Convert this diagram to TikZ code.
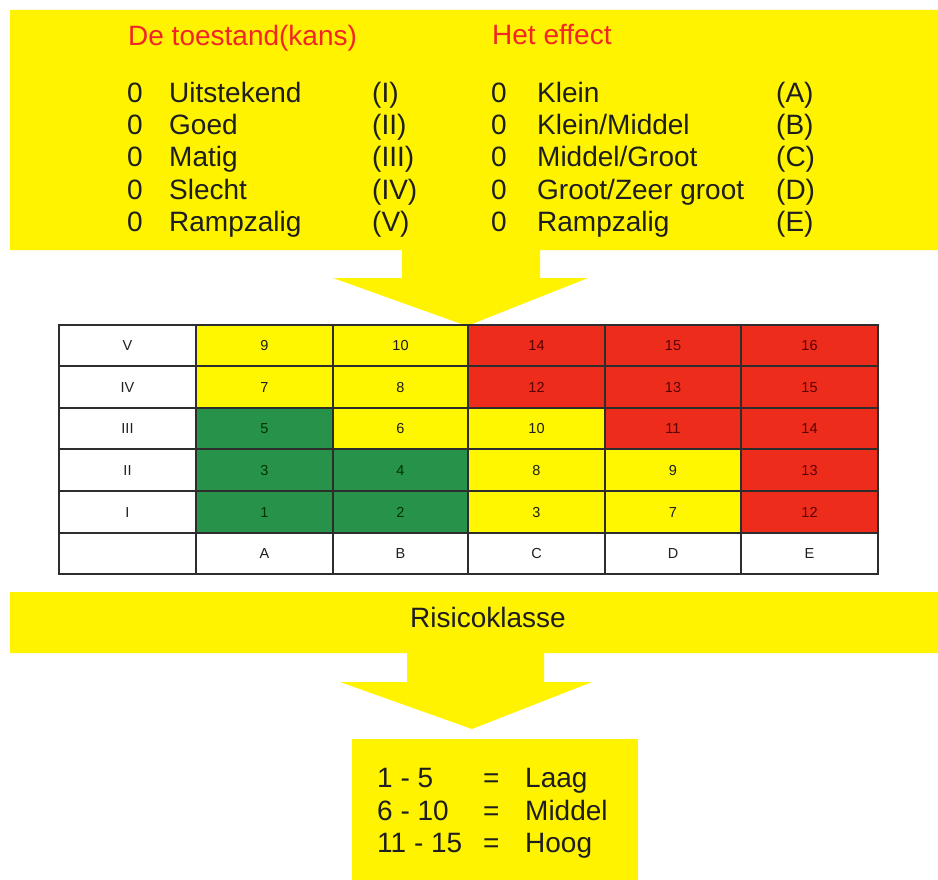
\documentclass[tikz,border=0pt]{standalone}
\usepackage{fontspec}
\setmainfont{Liberation Sans}
\definecolor{bandyellow}{RGB}{255,243,0}
\definecolor{cellyellow}{RGB}{255,247,0}
\definecolor{cellred}{RGB}{238,44,28}
\definecolor{cellgreen}{RGB}{38,146,74}
\definecolor{titlered}{RGB}{242,38,38}
\definecolor{gridline}{RGB}{45,45,45}
\definecolor{txtdark}{RGB}{30,30,30}
\begin{document}
\begin{tikzpicture}[x=1pt,y=-1pt,
  big/.style={font=\fontsize{28}{28}\selectfont, anchor=base west, inner sep=0pt, text=txtdark},
  title/.style={big, text=titlered},
  cell/.style={draw=gridline, line width=1.1pt, inner sep=0pt, text height=10.4pt, text depth=0pt, font=\fontsize{14.5}{14.5}\selectfont},
  wcell/.style={cell, fill=white, text=txtdark},
  ycell/.style={cell, fill=cellyellow, text=txtdark},
  rcell/.style={cell, fill=cellred, text=red!35!black},
  gcell/.style={cell, fill=cellgreen, text=green!20!black}]
\useasboundingbox (0,0) rectangle (938,880);
% top band with arrow
\fill[bandyellow] (10,10) -- (938,10) -- (938,250) -- (540,250) -- (540,278) -- (588,278)
  -- (467,326) -- (333,278) -- (402,278) -- (402,250) -- (10,250) -- cycle;
% bottom band with arrow
\fill[bandyellow] (10,592) -- (938,592) -- (938,653) -- (544,653) -- (544,682) -- (592,682)
  -- (472,729) -- (340,682) -- (407,682) -- (407,653) -- (10,653) -- cycle;
\fill[bandyellow] (352,739) rectangle (638,880);
% titles
\node[title] (t1) at (128,46) {De toestand(kans)};
\node[title] (t2) at (492,45) {Het effect};
% left list
\foreach \i/\nm/\rn/\yy in {1/Uitstekend/(I)/103, 2/Goed/(II)/135, 3/Matig/(III)/167, 4/Slecht/(IV)/200, 5/Rampzalig/(V)/232}{
  \node[big] (lz\i) at (127,\yy) {0};
  \node[big] (ln\i) at (169,\yy) {\nm};
  \node[big] (lr\i) at (372,\yy) {\rn};
}
% right list
\foreach \i/\nm/\rn/\yy in {1/{Klein}/(A)/103, 2/{Klein/Middel}/(B)/135, 3/{Middel/Groot}/(C)/167, 4/{Groot/Zeer groot}/(D)/200, 5/{Rampzalig}/(E)/232}{
  \node[big] (rz\i) at (491,\yy) {0};
  \node[big] (rn\i) at (537,\yy) {\nm};
  \node[big] (rr\i) at (776,\yy) {\rn};
}
% table
\def\xs{{59,196,333,468,605,741,878}}
\def\ys{{325,366,408,449,491,533,574}}
\foreach \r/\c/\st/\txt in {
  0/0/wcell/V, 0/1/ycell/9, 0/2/ycell/10, 0/3/rcell/14, 0/4/rcell/15, 0/5/rcell/16,
  1/0/wcell/IV, 1/1/ycell/7, 1/2/ycell/8, 1/3/rcell/12, 1/4/rcell/13, 1/5/rcell/15,
  2/0/wcell/III, 2/1/gcell/5, 2/2/ycell/6, 2/3/ycell/10, 2/4/rcell/11, 2/5/rcell/14,
  3/0/wcell/II, 3/1/gcell/3, 3/2/gcell/4, 3/3/ycell/8, 3/4/ycell/9, 3/5/rcell/13,
  4/0/wcell/I, 4/1/gcell/1, 4/2/gcell/2, 4/3/ycell/3, 4/4/ycell/7, 4/5/rcell/12,
  5/0/wcell/{}, 5/1/wcell/A, 5/2/wcell/B, 5/3/wcell/C, 5/4/wcell/D, 5/5/wcell/E}{
  \pgfmathsetmacro\xa{\xs[\c]}
  \pgfmathsetmacro\xb{\xs[\c+1]}
  \pgfmathsetmacro\ya{\ys[\r]}
  \pgfmathsetmacro\yb{\ys[\r+1]}
  \node[\st, minimum width={(\xb-\xa)*1pt}, minimum height={(\yb-\ya)*1pt}] (cell-\r-\c)
    at ({(\xa+\xb)/2},{(\ya+\yb)/2}) {\txt};
}
\draw[gridline, line width=1.1pt] (cell-0-0.north west) rectangle (cell-5-5.south east);
% risk class
\node[big] (rk) at (410,627) {Risicoklasse};
\foreach \i/\a/\b/\yy in {1/1 - 5/Laag/787, 2/6 - 10/Middel/820, 3/11 - 15/Hoog/852}{
  \node[big] (ka\i) at (377,\yy) {\a};
  \node[big] (ke\i) at (483,\yy) {=};
  \node[big] (kb\i) at (525,\yy) {\b};
}
\end{tikzpicture}
\end{document}
